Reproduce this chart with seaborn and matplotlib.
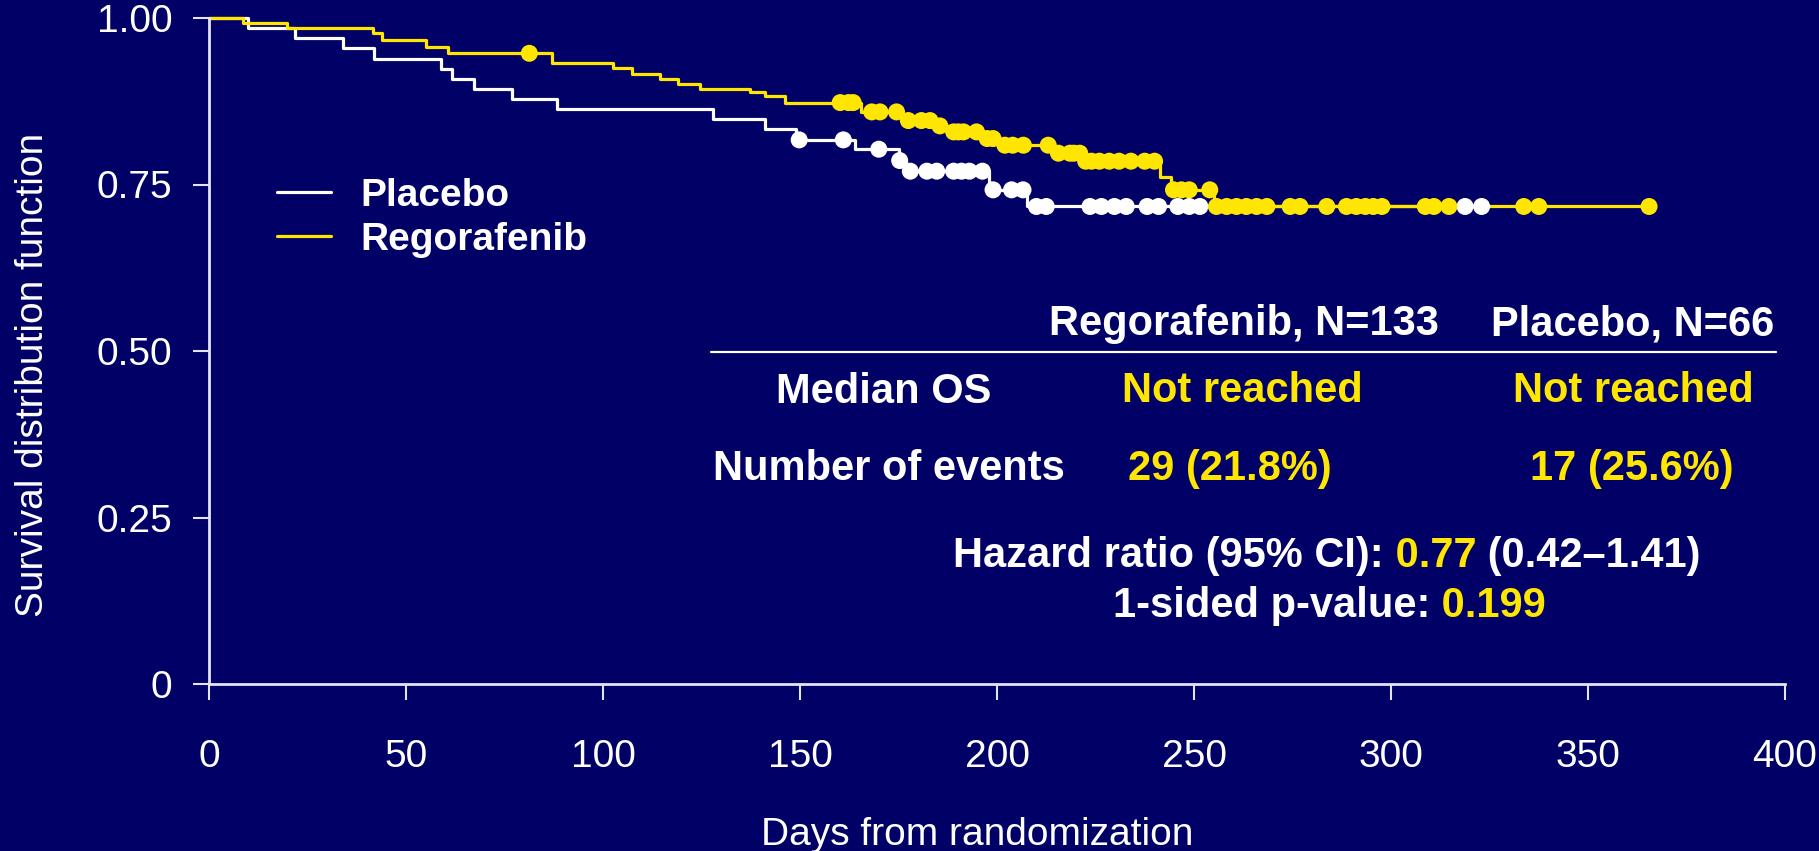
import matplotlib
matplotlib.use("Agg")
import matplotlib.pyplot as plt
from matplotlib.lines import Line2D
import pandas as pd
import seaborn as sns

# ---- Kaplan-Meier steps: day of each step and survival right after it ----
arms = ["Placebo", "Regorafenib"]

placebo_days = [0, 9.9, 21.8, 34.1, 41.9, 58.8, 61.8, 67.3, 76.8, 88.2, 128.0,
                141.1, 149.0, 164.0, 175.0, 177.0, 198.0, 207.5, 323.0]
placebo_surv = [1.000, 0.985, 0.970, 0.955, 0.939, 0.924, 0.909, 0.894, 0.879,
                0.864, 0.848, 0.833, 0.817, 0.803, 0.786, 0.770, 0.742, 0.717,
                0.717]

rego_days = [0, 8.7, 19.7, 41.7, 43.8, 55.2, 60.7, 87.0, 102.6, 107.3, 114.5,
             119.1, 124.5, 137.3, 141.1, 146.2, 165.6, 176.0, 184.5, 188.0,
             197.0, 201.0, 214.0, 221.8, 241.4, 244.2, 255.0, 365.5]
rego_surv = [1.000, 0.992, 0.985, 0.977, 0.967, 0.957, 0.947, 0.932, 0.925,
             0.916, 0.908, 0.901, 0.894, 0.889, 0.883, 0.873, 0.859, 0.846,
             0.838, 0.829, 0.819, 0.809, 0.797, 0.785, 0.762, 0.742, 0.717,
             0.717]

# ---- censored observations (day, survival level) ----
placebo_cens_days = [149.8, 161.0, 170.0, 175.3, 178.0, 182.2, 184.7, 189.0,
                     191.0, 193.0, 196.3, 199.0, 203.7, 206.6, 210.0, 212.5,
                     223.6, 226.5, 229.8, 232.8, 238.1, 241.0, 245.9, 248.8,
                     251.5, 318.8, 323.0]
placebo_cens_surv = [0.817, 0.817, 0.803, 0.786, 0.770, 0.770, 0.770, 0.770,
                     0.770, 0.770, 0.770, 0.742, 0.742, 0.742, 0.717, 0.717,
                     0.717, 0.717, 0.717, 0.717, 0.717, 0.717, 0.717, 0.717,
                     0.717, 0.717, 0.717]

rego_cens_days = [81.3, 160.2, 162.3, 163.5, 168.2, 170.3, 174.5, 177.5, 180.8,
                  183.0, 185.5, 189.0, 190.2, 191.5, 194.8, 197.5, 199.0, 202.0,
                  204.0, 206.7, 213.0, 215.6, 218.5, 219.5, 221.0, 222.5, 224.0,
                  226.0, 228.5, 231.0, 234.0, 237.5, 240.0, 244.8, 246.8, 248.8,
                  254.0, 255.7, 258.3, 260.8, 263.3, 265.9, 268.5, 274.4, 276.9,
                  283.7, 288.7, 291.2, 293.5, 295.5, 297.7, 308.7, 310.9, 314.7,
                  333.7, 337.5, 365.5]
rego_cens_surv = [0.947, 0.873, 0.873, 0.873, 0.859, 0.859, 0.859, 0.846, 0.846,
                  0.846, 0.838, 0.829, 0.829, 0.829, 0.829, 0.819, 0.819, 0.809,
                  0.809, 0.809, 0.809, 0.797, 0.797, 0.797, 0.797, 0.785, 0.785,
                  0.785, 0.785, 0.785, 0.785, 0.785, 0.785, 0.742, 0.742, 0.742,
                  0.742, 0.717, 0.717, 0.717, 0.717, 0.717, 0.717, 0.717, 0.717,
                  0.717, 0.717, 0.717, 0.717, 0.717, 0.717, 0.717, 0.717, 0.717,
                  0.717, 0.717, 0.717]

x_ticks = [0, 50, 100, 150, 200, 250, 300, 350, 400]
y_ticks = [0, 0.25, 0.50, 0.75, 1.00]
y_tick_labels = ["0", "0.25", "0.50", "0.75", "1.00"]

table_header = ["Regorafenib, N=133", "Placebo, N=66"]
median_os = ["Not reached", "Not reached"]
n_events = ["29 (21.8%)", "17 (25.6%)"]
hazard_parts = [("Hazard ratio (95% CI):", "w"), (" 0.77", "y"), (" (0.42\u20131.41)", "w")]
pvalue_parts = [("1-sided p-value:", "w"), (" 0.199", "y")]

# ---- styling ----
NAVY = "#000066"
YELLOW = "#FFE600"
WHITE = "#FFFFFF"
AXIS = "#E4E4EE"
palette = {"Placebo": WHITE, "Regorafenib": YELLOW}
tone = {"w": WHITE, "y": YELLOW}

sns.set_theme(style="ticks")
plt.rcParams["font.family"] = ["Liberation Sans", "DejaVu Sans"]

W, H = 1819, 851
fig = plt.figure(figsize=(W / 100, H / 100), dpi=100, facecolor=NAVY)


def fx(px):
    return px / W


def fy(py):
    return 1 - py / H


ax = fig.add_axes([fx(209), fy(684), 1576 / W, 666 / H])
ax.set_facecolor(NAVY)

curves = pd.concat([
    pd.DataFrame({"day": placebo_days, "surv": placebo_surv, "arm": "Placebo"}),
    pd.DataFrame({"day": rego_days, "surv": rego_surv, "arm": "Regorafenib"}),
], ignore_index=True)
censored = pd.concat([
    pd.DataFrame({"day": placebo_cens_days, "surv": placebo_cens_surv, "arm": "Placebo"}),
    pd.DataFrame({"day": rego_cens_days, "surv": rego_cens_surv, "arm": "Regorafenib"}),
], ignore_index=True)

sns.lineplot(data=curves, x="day", y="surv", hue="arm", hue_order=arms,
             palette=palette, estimator=None, drawstyle="steps-post",
             linewidth=2.3, legend=False, clip_on=False, ax=ax)
sns.scatterplot(data=censored, x="day", y="surv", hue="arm", hue_order=arms,
                palette=palette, s=150, linewidth=0, legend=False,
                zorder=3, clip_on=False, ax=ax)

ax.set_xlim(0, 400)
ax.set_ylim(0, 1)
ax.set_xticks(x_ticks)
ax.set_xticklabels([str(t) for t in x_ticks])
ax.set_yticks(y_ticks)
ax.set_yticklabels(y_tick_labels)
sns.despine(ax=ax)
for side in ("left", "bottom"):
    ax.spines[side].set_color(AXIS)
    ax.spines[side].set_linewidth(2.0)
ax.tick_params(axis="both", direction="out", length=11.5, width=1.5,
               color=AXIS, labelcolor=WHITE, labelsize=28)
ax.tick_params(axis="x", pad=28)
ax.tick_params(axis="y", pad=15)

ax.set_xlabel("Days from randomization", fontsize=28, color=WHITE)
ax.set_ylabel("Survival distribution function", fontsize=28, color=WHITE)
ax.xaxis.label.set_va("center")
ax.yaxis.label.set_va("center")
ax.xaxis.set_label_coords((977 - 209) / 1576, (684 - 835) / 666)
ax.yaxis.set_label_coords((33 - 209) / 1576, (684 - 375) / 666)

handles = [Line2D([], [], color=palette[a], linewidth=2.3) for a in arms]
ax.legend(handles, arms, loc="upper left", bbox_to_anchor=(fx(277), fy(178)),
          bbox_transform=fig.transFigure, frameon=False, borderpad=0,
          borderaxespad=0, handlelength=1.4, handletextpad=0.75,
          labelspacing=0.2, labelcolor=WHITE,
          prop={"size": 28, "weight": "bold"})

# ---- summary table ----
bold = dict(fontsize=30, fontweight="bold", va="baseline")
fig.text(fx(1244), fy(335), table_header[0], color=WHITE, ha="center", **bold)
fig.text(fx(1633), fy(335), table_header[1], color=WHITE, ha="center", **bold)
fig.add_artist(Line2D([fx(711), fx(1776)], [fy(352), fy(352)],
                      transform=fig.transFigure, color=WHITE, linewidth=1.6))
fig.text(fx(884), fy(403), "Median OS", color=WHITE, ha="center", **bold)
fig.text(fx(1242), fy(402), median_os[0], color=YELLOW, ha="center", **bold)
fig.text(fx(1633), fy(402), median_os[1], color=YELLOW, ha="center", **bold)
fig.text(fx(889), fy(480), "Number of events", color=WHITE, ha="center", **bold)
fig.text(fx(1230), fy(480), n_events[0], color=YELLOW, ha="center", **bold)
fig.text(fx(1632), fy(480), n_events[1], color=YELLOW, ha="center", **bold)


def colored_line(x0, y0, parts):
    first, c0 = parts[0]
    t = fig.text(fx(x0), fy(y0), first, color=tone[c0], ha="left", **bold)
    for s, c in parts[1:]:
        t = ax.annotate(s, xy=(1, 0), xycoords=t, ha="left", va="bottom",
                        color=tone[c], fontsize=30, fontweight="bold",
                        annotation_clip=False)


colored_line(953, 567, hazard_parts)
colored_line(1113, 617, pvalue_parts)

fig.savefig("out.png", dpi=100, facecolor=NAVY)
